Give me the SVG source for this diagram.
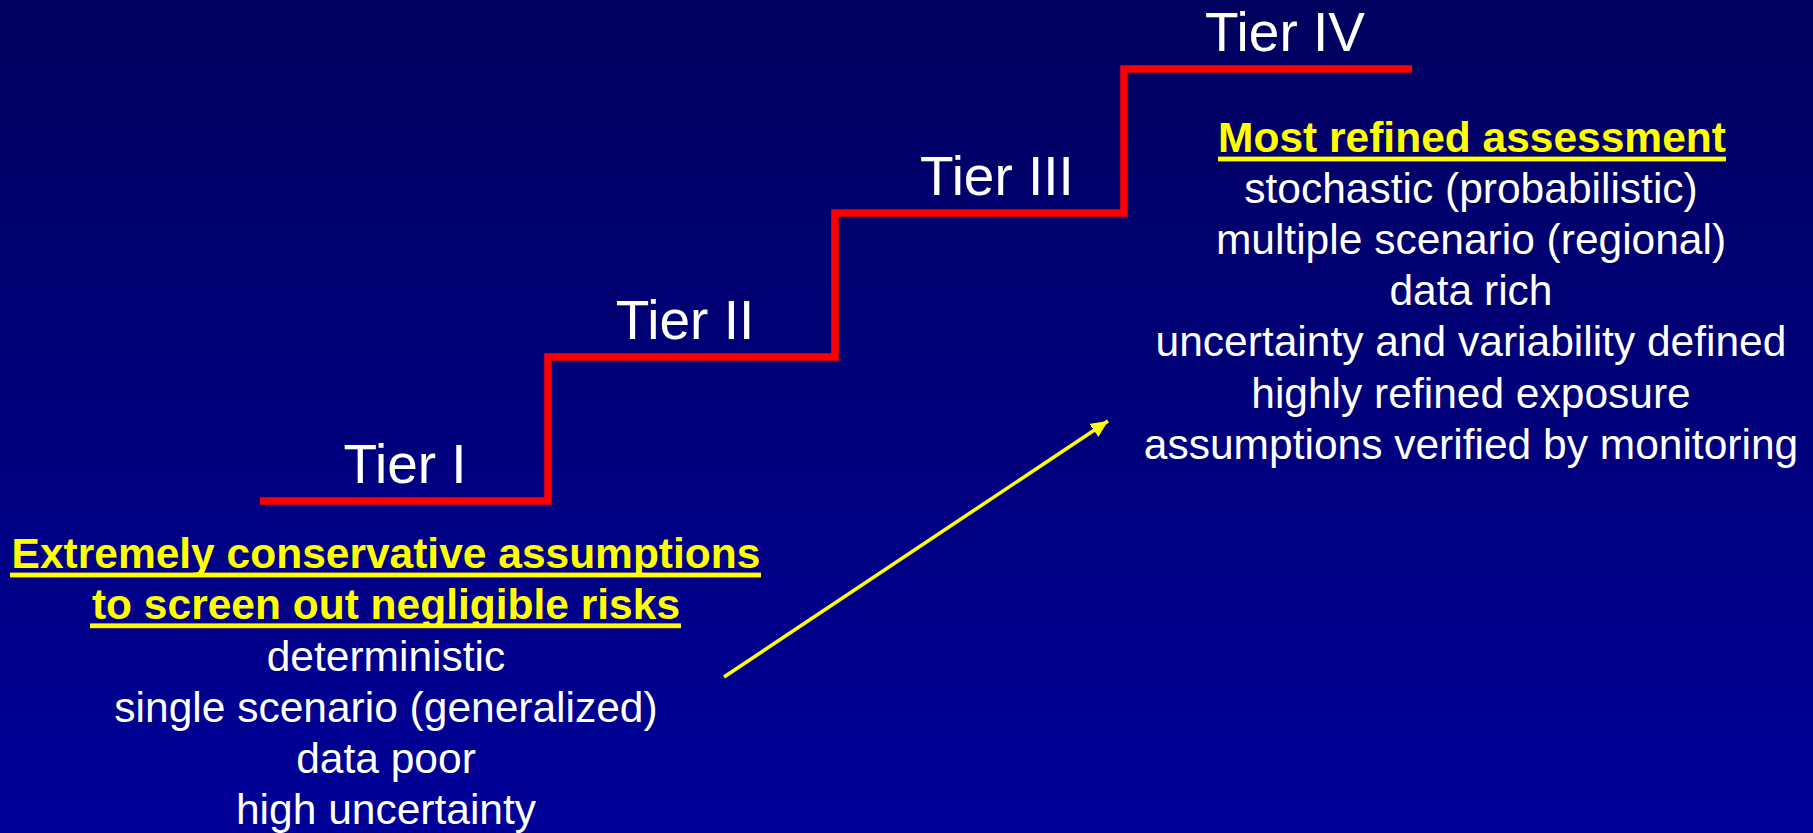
<svg xmlns="http://www.w3.org/2000/svg" width="1813" height="833" viewBox="0 0 1813 833">
  <defs>
    <linearGradient id="bg" x1="0" y1="0" x2="0" y2="1">
      <stop offset="0" stop-color="#00005e"/>
      <stop offset="1" stop-color="#000099"/>
    </linearGradient>
    <marker id="arrowhead" markerUnits="userSpaceOnUse" markerWidth="18" markerHeight="18" refX="17" refY="8" orient="auto">
      <path d="M0,0 L17,8 L0,16 Z" fill="#ffff00"/>
    </marker>
    <style>
      .tier { font-family: "Liberation Sans", Arial, sans-serif; font-size: 55px; fill: #ffffff; text-anchor: middle; }
      .head { font-family: "Liberation Sans", Arial, sans-serif; font-size: 42.5px; font-weight: bold; fill: #ffff00; text-anchor: middle; }
      .body { font-family: "Liberation Sans", Arial, sans-serif; font-size: 42.5px; fill: #ffffff; text-anchor: middle; }
      .uline { fill: #ffff00; }
      .step { fill: none; stroke: #ff0000; stroke-width: 7.5; stroke-linejoin: miter; stroke-linecap: butt; }
      .arrow { stroke: #ffff00; stroke-width: 3.5; fill: none; }
    </style>
  </defs>

  <rect x="0" y="0" width="1813" height="833" fill="url(#bg)"/>

  <!-- staircase of tiers -->
  <g id="staircase">
    <polyline class="step" points="260,501 548,501 548,357 835,357 835,213 1124,213 1124,69 1412,69"/>
  </g>

  <g id="tier1">
    <text class="tier" x="405" y="483">Tier I</text>
  </g>
  <g id="tier2">
    <text class="tier" x="685" y="339">Tier II</text>
  </g>
  <g id="tier3">
    <text class="tier" x="997" y="195">Tier III</text>
  </g>
  <g id="tier4">
    <text class="tier" x="1285" y="51">Tier IV</text>
  </g>

  <!-- lower-tier description -->
  <g id="lower-description">
    <text class="head" x="386" y="568">Extremely conservative assumptions</text>
    <rect class="uline" x="10" y="572.6" width="751" height="4.8"/>
    <text class="head" x="386" y="619">to screen out negligible risks</text>
    <rect class="uline" x="90" y="623.4" width="591" height="4.8"/>
    <text class="body" x="386" y="671">deterministic</text>
    <text class="body" x="386" y="722">single scenario (generalized)</text>
    <text class="body" x="386" y="773">data poor</text>
    <text class="body" x="386" y="824">high uncertainty</text>
  </g>

  <!-- upper-tier description -->
  <g id="upper-description">
    <text class="head" x="1472" y="152">Most refined assessment</text>
    <rect class="uline" x="1218" y="156.6" width="508" height="4.8"/>
    <text class="body" x="1471" y="203">stochastic (probabilistic)</text>
    <text class="body" x="1471" y="254">multiple scenario (regional)</text>
    <text class="body" x="1471" y="305">data rich</text>
    <text class="body" x="1471" y="356">uncertainty and variability defined</text>
    <text class="body" x="1471" y="408">highly refined exposure</text>
    <text class="body" x="1471" y="459">assumptions verified by monitoring</text>
  </g>

  <!-- progression arrow -->
  <g id="connectors">
    <line class="arrow" x1="724" y1="677" x2="1108" y2="421" marker-end="url(#arrowhead)"/>
  </g>
</svg>
